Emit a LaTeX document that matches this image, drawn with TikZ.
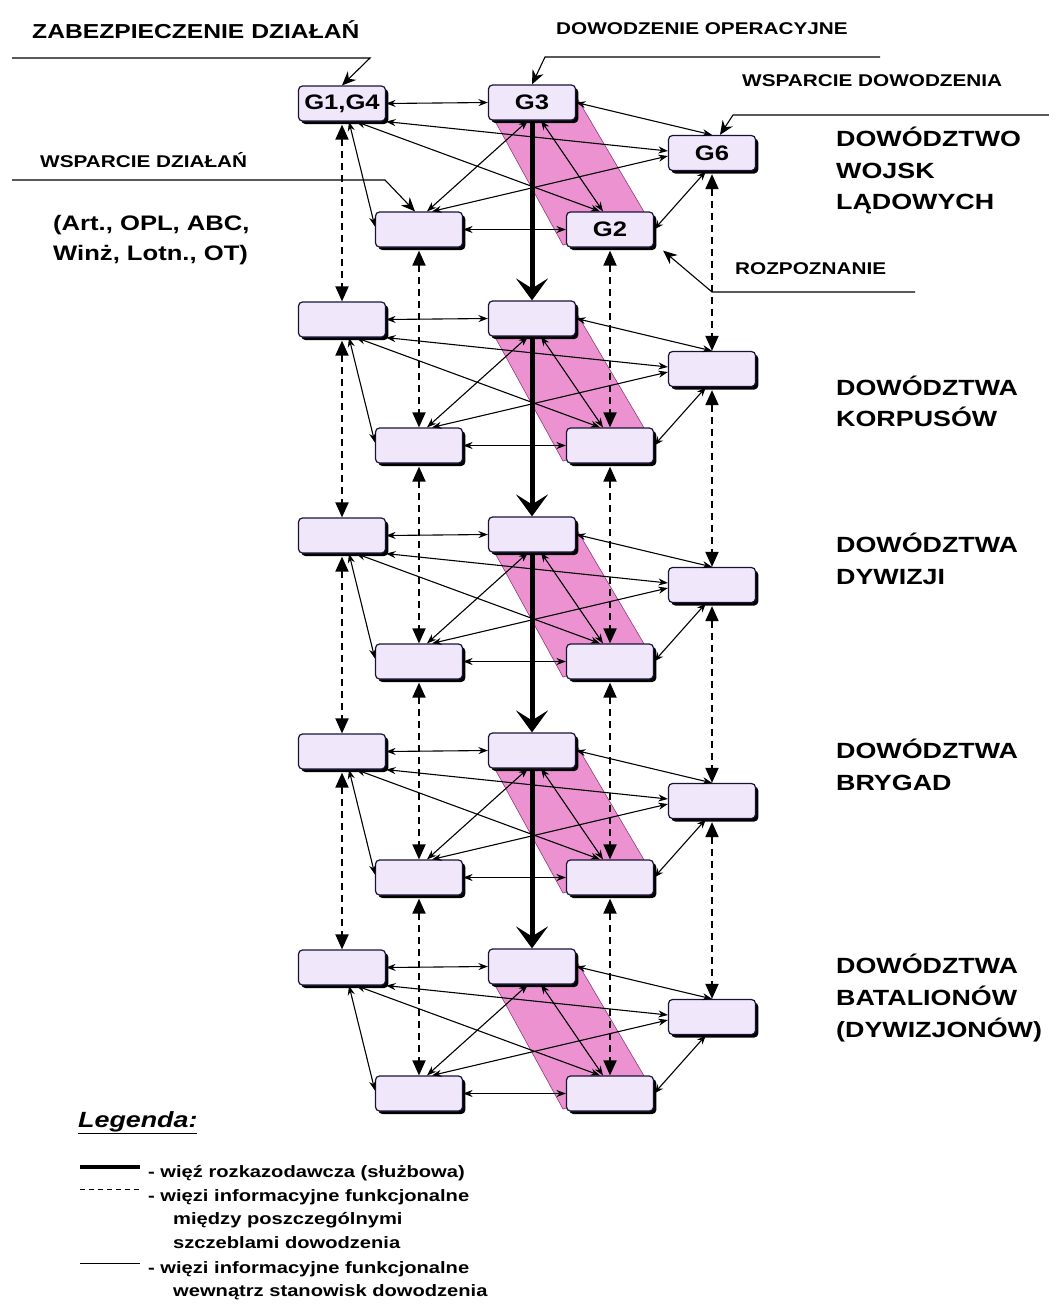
\documentclass[tikz,border=0pt]{standalone}
\usepackage{fontspec}
\setmainfont{Liberation Sans}[FakeStretch=1.22]
\usetikzlibrary{arrows.meta,shadows,calc,backgrounds}
\definecolor{boxfill}{RGB}{240,231,251}
\definecolor{pinkband}{RGB}{236,146,208}
\definecolor{pinkedge}{RGB}{140,60,120}
\definecolor{boxedge}{RGB}{25,20,55}
\begin{document}
\begin{tikzpicture}[x=1pt,y=-1pt,
  box/.style={draw=boxedge, line width=1.2pt, rounded corners=4pt, fill=boxfill,
    minimum width=87pt, minimum height=35pt, inner sep=0pt,
    font=\fontsize{21pt}{24pt}\selectfont\bfseries,
    drop shadow={shadow xshift=2.8pt, shadow yshift=-3pt, fill=black, opacity=1}},
  link/.style={line width=1.1pt, {Stealth[length=9.5pt,width=7pt]}-{Stealth[length=9.5pt,width=7pt]}},
  dv/.style={line width=1.9pt, dash pattern=on 7pt off 5pt,
    {Triangle[length=15pt,width=13pt]}-{Triangle[length=15pt,width=13pt]}},
  cmd/.style={line width=5pt, -{Stealth[length=22pt,width=32pt,inset=10pt]}},
  callout/.style={line width=1.1pt, -{Stealth[length=14pt,width=12pt]}},
  lbl/.style={anchor=base west, inner sep=0pt},
  f17/.style={font=\fontsize{17pt}{20pt}\selectfont\bfseries},
  f22/.style={font=\fontsize{22pt}{26pt}\selectfont\bfseries},
  f16/.style={font=\fontsize{16.5pt}{19pt}\selectfont\bfseries}
]
\useasboundingbox (0,0) rectangle (1049,1304);

% ---- nodes of the five levels
\foreach \i in {0,...,4}{
  \pgfmathsetmacro\o{216*\i}
  \node[box] (A\i) at (342,{103.5+\o}) {\ifnum\i=0 G1,G4\fi};
  \node[box] (B\i) at (532,{102.5+\o}) {\ifnum\i=0 G3\fi};
  \node[box] (C\i) at (712,{153+\o}) {\ifnum\i=0 G6\fi};
  \node[box] (D\i) at (419,{229.5+\o}) {};
  \node[box] (E\i) at (610,{229.5+\o}) {\ifnum\i=0 G2\fi};
}

% ---- pink bands
\begin{scope}[on background layer]
\foreach \i in {0,...,4}{
  \pgfmathsetmacro\o{216*\i}
  \filldraw[fill=pinkband, draw=pinkedge, line width=0.6pt]
    (495,{121+\o}) -- (577,{98+\o}) -- (650,{222+\o}) -- (563,{245+\o}) -- cycle;
}
\end{scope}

% ---- links inside each level
\foreach \i in {0,...,4}{
  \draw[link] (A\i.east) -- (B\i.west);
  \draw[link] (A\i.south east) -- ($(C\i.west)+(0,-2)$);
  \draw[link] ($(A\i.south)+(14,0)$) -- ($(E\i.north)+(-10,0)$);
  \draw[link] ($(A\i.south)+(7,0)$) -- ($(D\i.west)+(0,-3)$);
  \draw[link] (B\i.east) -- (C\i.north);
  \draw[link] ($(B\i.south)+(-4,0)$) -- ($(D\i.north)+(8,0)$);
  \draw[link] ($(B\i.south)+(9,0)$) -- ($(E\i.north)+(-7,0)$);
  \draw[link] ($(D\i.north)+(13,0)$) -- ($(C\i.west)+(0,3)$);
  \draw[link] (D\i.east) -- (E\i.west);
  \draw[link] (E\i.east) -- ($(C\i.south)+(-6,0)$);
}

% ---- links between levels
\foreach \i in {0,...,3}{
  \pgfmathtruncatemacro\j{\i+1}
  \draw[dv, shorten <=3pt] (A\i.south) -- (A\j.north);
  \draw[dv, shorten <=3pt] (D\i.south) -- (D\j.north);
  \draw[dv, shorten <=3pt] (E\i.south) -- (E\j.north);
  \draw[dv, shorten <=3pt] (C\i.south) -- (C\j.north);
  \draw[cmd] (B\i.south) -- (B\j.north);
}

% ---- callouts of the top level
\coordinate (z1) at (12,58);   \coordinate (z2) at (370,58);
\coordinate (o1) at (880,57);  \coordinate (o2) at (545,57);
\coordinate (w1) at (1049,115);\coordinate (w2) at (733,115);
\coordinate (s1) at (12,180);  \coordinate (s2) at (385,180);
\coordinate (r1) at (915,292); \coordinate (r2) at (712,292);
\draw[callout] (z1) -- (z2) -- (A0.north);
\draw[callout] (o1) -- (o2) -- (B0.north);
\draw[callout] (w1) -- (w2) -- ($(C0.north)+(8,0)$);
\draw[callout] (s1) -- (s2) -- ($(D0.north)+(-4,0)$);
\draw[callout] (r1) -- (r2) -- ($(E0.south east)+(9,3)$);

\node[lbl, font=\fontsize{20.2pt}{23pt}\selectfont\bfseries] (tz) at (32,38) {ZABEZPIECZENIE DZIAŁAŃ};
\node[lbl, font=\fontsize{17pt}{20pt}\selectfont\bfseries] (to) at (556,34) {DOWODZENIE OPERACYJNE};
\node[lbl, f17] (tw) at (742,86) {WSPARCIE DOWODZENIA};
\node[lbl, f17] (ts) at (40,167) {WSPARCIE DZIAŁAŃ};
\node[lbl, font=\fontsize{21pt}{25pt}\selectfont\bfseries] (ta1) at (53,230) {(Art., OPL, ABC,};
\node[lbl, font=\fontsize{21pt}{25pt}\selectfont\bfseries] (ta2) at (53,260) {Winż, Lotn., OT)};
\node[lbl, f17] (tr) at (735,274) {ROZPOZNANIE};

% ---- level names
\node[lbl, f22] (n11) at (836,146) {DOWÓDZTWO};
\node[lbl, f22] (n12) at (836,178) {WOJSK};
\node[lbl, f22] (n13) at (836,209) {LĄDOWYCH};
\node[lbl, f22] (n21) at (836,395) {DOWÓDZTWA};
\node[lbl, f22] (n22) at (836,426) {KORPUSÓW};
\node[lbl, f22] (n31) at (836,552) {DOWÓDZTWA};
\node[lbl, f22] (n32) at (836,584) {DYWIZJI};
\node[lbl, f22] (n41) at (836,758) {DOWÓDZTWA};
\node[lbl, f22] (n42) at (836,790) {BRYGAD};
\node[lbl, f22] (n51) at (836,973) {DOWÓDZTWA};
\node[lbl, f22] (n52) at (836,1005) {BATALIONÓW};
\node[lbl, f22] (n53) at (836,1037) {(DYWIZJONÓW)};

% ---- legend
\node[lbl, font=\fontsize{22pt}{26pt}\selectfont\bfseries\itshape] (leg) at (78,1127) {\underline{Legenda:}};
\coordinate (k1a) at (80,1167); \coordinate (k1b) at (140,1167);
\coordinate (k2a) at (80,1189); \coordinate (k2b) at (140,1189);
\coordinate (k3a) at (80,1263); \coordinate (k3b) at (140,1263);
\draw[line width=4pt] (k1a) -- (k1b);
\draw[line width=0.8pt, dash pattern=on 5pt off 4pt] (k2a) -- (k2b);
\draw[line width=0.8pt] (k3a) -- (k3b);
\node[lbl, f16] (g1) at (148,1177) {- więź rozkazodawcza (służbowa)};
\node[lbl, f16] (g2) at (148,1201) {- więzi informacyjne funkcjonalne};
\node[lbl, f16] (g3) at (173,1224) {między poszczególnymi};
\node[lbl, f16] (g4) at (173,1248) {szczeblami dowodzenia};
\node[lbl, f16] (g5) at (148,1273) {- więzi informacyjne funkcjonalne};
\node[lbl, f16] (g6) at (173,1296) {wewnątrz stanowisk dowodzenia};
\end{tikzpicture}
\end{document}
